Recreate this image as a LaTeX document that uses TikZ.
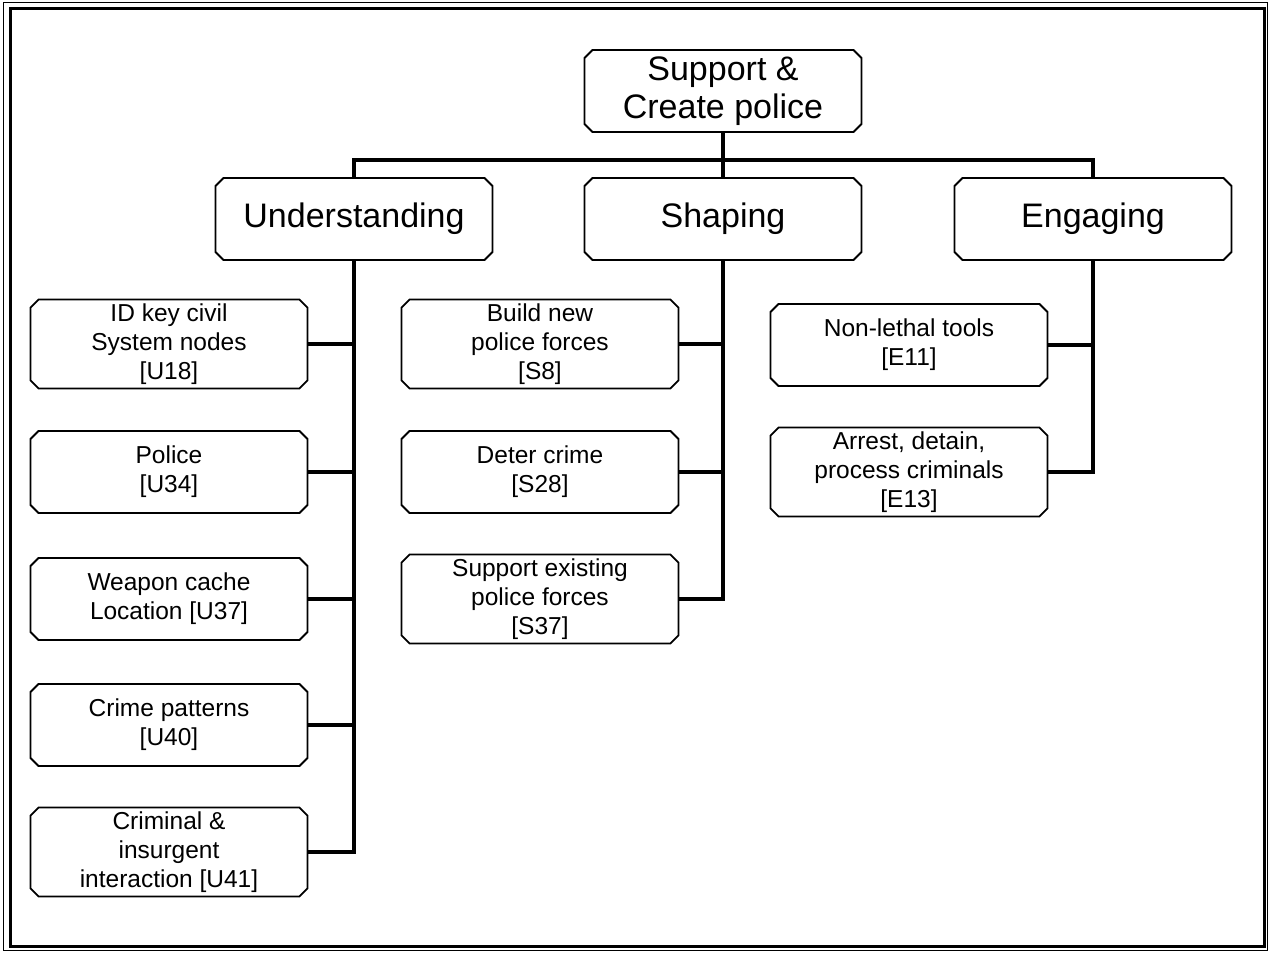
\documentclass[tikz,border=0pt]{standalone}
\usepackage{fontspec}
\setmainfont{Liberation Sans}
\usetikzlibrary{shapes.misc}
\tikzset{
  box/.style={draw,line width=1.8pt,chamfered rectangle,chamfered rectangle xsep=4pt,
    chamfered rectangle ysep=4pt,minimum width=277pt,minimum height=82pt,inner sep=0pt,
    align=center,font=\fontsize{24.5}{29}\selectfont},
  head/.style={box,font=\fontsize{34}{38}\selectfont},
  link/.style={line width=4pt}
}

\begin{document}
\begin{tikzpicture}[x=1pt,y=-1pt]
  \useasboundingbox (0,0) rectangle (1269,953);
  % double frame
  \draw[line width=1.2pt] (3.5,2.5) rectangle (1267.5,950.5);
  \draw[line width=3pt] (10.5,8.5) rectangle (1264.5,946.5);
  \coordinate (bus) at (723,160);
  \node[head] (root) at (723,91) {Support \&\\Create police};
  \node[head] (und) at (354,219) {Understanding};
  \node[head] (sha) at (723,219) {Shaping};
  \node[head] (eng) at (1093,219) {Engaging};
  % understanding column
  \node[box] (u18) at (169,344) {ID key civil\\System nodes\\{[U18]}};
  \node[box] (u34) at (169,472) {Police\\{[U34]}};
  \node[box] (u37) at (169,599) {Weapon cache\\Location [U37]};
  \node[box] (u40) at (169,725) {Crime patterns\\{[U40]}};
  \node[box] (u41) at (169,852) {Criminal \&\\insurgent\\interaction [U41]};
  % shaping column
  \node[box] (s8) at (540,344) {Build new\\police forces\\{[S8]}};
  \node[box] (s28) at (540,472) {Deter crime\\{[S28]}};
  \node[box] (s37) at (540,599) {Support existing\\police forces\\{[S37]}};
  % engaging column
  \node[box] (e11) at (909,345) {Non-lethal tools\\{[E11]}};
  \node[box] (e13) at (909,472) {Arrest, detain,\\process criminals\\{[E13]}};
  \draw[link] (root.south) -- (sha.north);
  \draw[link] (und.north) |- (bus) -| (eng.north);
  \draw[link] (und.south) |- (u41.east);
  \foreach \n in {u18,u34,u37,u40}
    \draw[link] (\n.east) -- (\n.east -| und.south);
  \draw[link] (sha.south) |- (s37.east);
  \foreach \n in {s8,s28}
    \draw[link] (\n.east) -- (\n.east -| sha.south);
  \draw[link] (eng.south) |- (e13.east);
  \draw[link] (e11.east) -- (e11.east -| eng.south);
\end{tikzpicture}
\end{document}
